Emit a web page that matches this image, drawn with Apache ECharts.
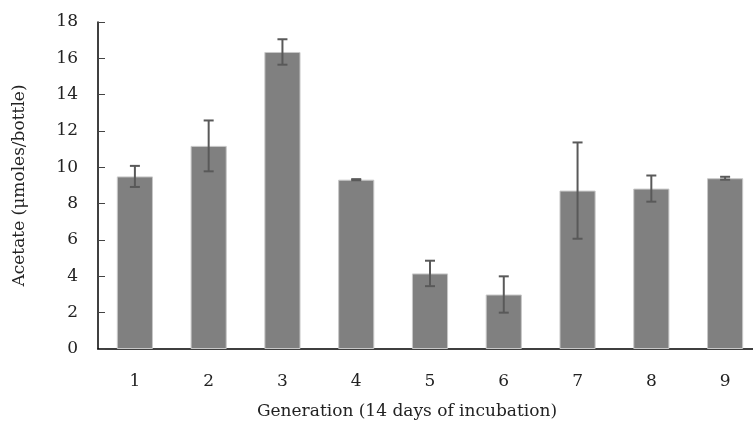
<!DOCTYPE html>
<html>
<head>
<meta charset="utf-8">
<script src="https://cdn.jsdelivr.net/npm/echarts@6/dist/echarts.min.js"></script>
<style>
  html, body { margin: 0; padding: 0; background: #fff; }
  #chart { width: 753px; height: 428px; }
</style>
</head>
<body>
<div id="chart"></div>
<script>
// generations and measured acetate (mean, error)
var generations = ["1", "2", "3", "4", "5", "6", "7", "8", "9"];
var acetate = [9.5, 11.18, 16.35, 9.32, 4.16, 3.0, 8.72, 8.83, 9.4];
var errors = [0.58, 1.4, 0.7, 0.03, 0.7, 1.0, 2.65, 0.72, 0.08];
var yTicks = { min: 0, max: 18, interval: 2 };

var font = "DejaVu Serif";
var fsize = 17;
var myChart = echarts.init(document.getElementById("chart"));

var errData = acetate.map(function (v, i) {
  return [i, v - errors[i], v + errors[i]];
});

var option = {
  animation: false,
  textStyle: { fontFamily: font },
  grid: { left: 98, right: -9, top: 22, bottom: 79, outerBoundsMode: "none" },
  xAxis: {
    type: "category",
    data: generations,
    name: "Generation (14 days of incubation)",
    nameLocation: "middle",
    nameGap: 54,
    // title sits a bit left of the plot centre, as in the original
    nameTextStyle: { fontFamily: font, fontSize: fsize, color: "#222", padding: [0, 46, 0, 0] },
    axisLine: { lineStyle: { color: "#000", width: 1.5 } },
    axisTick: { show: false },
    axisLabel: { margin: 24, fontFamily: font, fontSize: fsize, color: "#222" }
  },
  yAxis: {
    type: "value",
    min: yTicks.min,
    max: yTicks.max,
    interval: yTicks.interval,
    name: "Acetate (\u03bcmoles/bottle)",
    nameLocation: "middle",
    nameGap: 70,
    nameTextStyle: { fontFamily: font, fontSize: fsize, color: "#222" },
    splitLine: { show: false },
    axisLine: { show: true, lineStyle: { color: "#000", width: 1.5 } },
    axisTick: { show: true, inside: true, length: 7, lineStyle: { color: "#444" } },
    axisLabel: { margin: 20, fontFamily: font, fontSize: fsize, color: "#222" }
  },
  series: [
    {
      type: "bar",
      data: acetate,
      barWidth: "49%",
      itemStyle: { color: "#808080", borderColor: "#c8c8c8", borderWidth: 1 }
    },
    {
      type: "custom",
      data: errData,
      z: 10,
      renderItem: function (params, api) {
        var x = api.value(0);
        var lo = api.coord([x, api.value(1)]);
        var hi = api.coord([x, api.value(2)]);
        var half = 5;
        var style = { stroke: "#595959", lineWidth: 2 };
        return {
          type: "group",
          children: [
            { type: "line", shape: { x1: hi[0], y1: hi[1], x2: lo[0], y2: lo[1] }, style: style },
            { type: "line", shape: { x1: hi[0] - half, y1: hi[1], x2: hi[0] + half, y2: hi[1] }, style: style },
            { type: "line", shape: { x1: lo[0] - half, y1: lo[1], x2: lo[0] + half, y2: lo[1] }, style: style }
          ]
        };
      }
    }
  ]
};
myChart.setOption(option);
</script>
</body>
</html>
